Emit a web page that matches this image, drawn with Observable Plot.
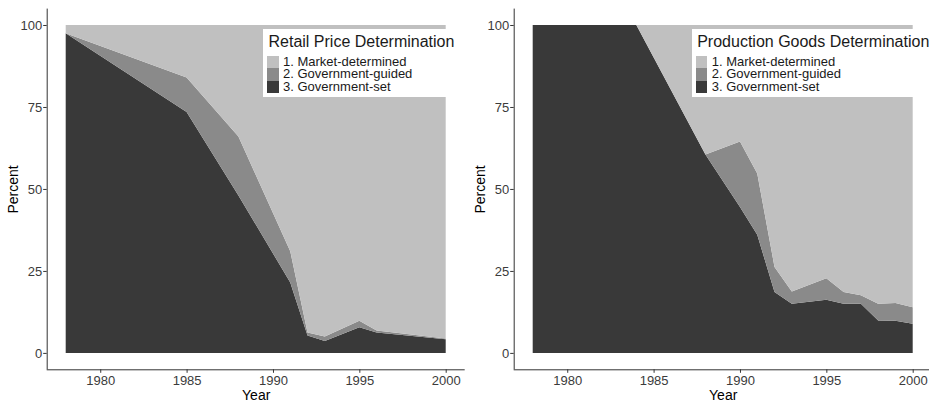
<!DOCTYPE html>
<html><head><meta charset="utf-8">
<script src="https://cdn.jsdelivr.net/npm/d3@7"></script>
<script src="https://cdn.jsdelivr.net/npm/@observablehq/plot@0.6"></script>
<style>
body{margin:0;background:#fff;font-family:"Liberation Sans",Arial,sans-serif}
#wrap{position:relative;width:929px;height:400px;overflow:hidden;display:flex;background:#fff}
.panel{position:relative;width:467px;height:400px;flex:none}
.legend{position:absolute;top:29px;background:#fff;padding:4px 3px 4px 4px;color:#1a1a1a}
.legend .title{font-size:16px;line-height:18px;margin-left:1.5px;margin-bottom:5px;white-space:nowrap}
.legend .item{display:flex;align-items:center;font-size:13px;line-height:12.3px;height:12.3px;white-space:nowrap}
.legend .sw{width:11.6px;height:12.3px;margin-right:4.4px;flex:none}
</style></head><body><div id="wrap"></div>
<script>
const categories = ["1. Market-determined", "2. Government-guided", "3. Government-set"];
const colors = ["#c0c0c0", "#8a8a8a", "#393939"];

const retailYears  = [1978, 1985, 1988, 1991, 1992, 1993, 1995, 1996, 2000];
const retailSet    = [97.5, 73.5, 48, 21.5, 5.3, 3.6, 7.8, 6.2, 4.2];
const retailGuided = [0, 10.5, 18, 9.5, 0.9, 1.4, 2.0, 0.6, 0.2];
const retailMarket = [2.5, 16, 34, 69, 93.8, 95, 90.2, 93.2, 95.6];

const prodYears  = [1978, 1984, 1988, 1990, 1991, 1992, 1993, 1995, 1996, 1997, 1998, 1999, 2000];
const prodSet    = [100, 100, 60.5, 44.5, 36, 18.6, 15, 16.2, 15, 15, 9.9, 9.8, 8.9];
const prodGuided = [0, 0, 0, 20, 18.7, 7.6, 3.7, 6.6, 3.6, 2.6, 5.1, 5.4, 5.0];
const prodMarket = [0, 0, 39.5, 35.5, 45.3, 73.8, 81.3, 77.2, 81.4, 82.4, 85, 84.8, 86.1];

const xTicks = [1980, 1985, 1990, 1995, 2000];
const yTicks = [0, 25, 50, 75, 100];

function rows(years, market, guided, set) {
  const out = [];
  years.forEach((yr, i) => {
    out.push({year: yr, type: categories[2], value: set[i]});
    out.push({year: yr, type: categories[1], value: guided[i]});
    out.push({year: yr, type: categories[0], value: market[i]});
  });
  return out;
}

function panel(data, years, title, legendLeft) {
  const [x0, x1] = d3.extent(years);
  const px = (x1 - x0) * 0.05;
  const xd = [x0 - px, x1 + px];
  const yd = [-5, 105];
  const font = '"Liberation Sans", Arial, sans-serif';
  const svg = Plot.plot({
    width: 467, height: 400,
    marginLeft: 46.7, marginRight: 2.3, marginTop: 8.6, marginBottom: 30.7,
    style: {fontFamily: font, fontSize: "13px", background: "#fff", overflow: "visible"},
    x: {domain: xd},
    y: {domain: yd},
    color: {domain: categories, range: colors},
    marks: [
      Plot.areaY(data, {x: "year", y: "value", z: "type", fill: "type",
        order: [categories[2], categories[1], categories[0]]}),
      Plot.ruleY([yd[0]], {stroke: "#333", strokeWidth: 1}),
      Plot.ruleX([xd[0]], {stroke: "#333", strokeWidth: 1}),
      Plot.axisX({ticks: xTicks, tickFormat: "d", tickSize: 3.5, tickPadding: 2,
        stroke: "#333", fill: "#3b3b3b", fontSize: 13, label: null}),
      Plot.axisX({ticks: [], label: "Year", labelAnchor: "center", labelArrow: "none",
        labelOffset: 30, fill: "#000", fontSize: 14}),
      Plot.axisY({ticks: yTicks, tickFormat: "d", tickSize: 3.5, tickPadding: 1.5,
        stroke: "#333", fill: "#3b3b3b", fontSize: 13, label: null}),
      Plot.axisY({ticks: [], label: "Percent", labelAnchor: "center", labelArrow: "none",
        labelOffset: 39, fill: "#000", fontSize: 14})
    ]
  });
  const div = document.createElement("div");
  div.className = "panel";
  div.appendChild(svg);
  const lg = document.createElement("div");
  lg.className = "legend";
  lg.style.left = legendLeft + "px";
  const t = document.createElement("div");
  t.className = "title";
  t.textContent = title;
  lg.appendChild(t);
  categories.forEach((c, i) => {
    const it = document.createElement("div");
    it.className = "item";
    const sw = document.createElement("span");
    sw.className = "sw";
    sw.style.background = colors[i];
    const tx = document.createElement("span");
    tx.textContent = c;
    it.appendChild(sw);
    it.appendChild(tx);
    lg.appendChild(it);
  });
  div.appendChild(lg);
  return div;
}

const wrap = document.getElementById("wrap");
wrap.appendChild(panel(rows(retailYears, retailMarket, retailGuided, retailSet), retailYears, "Retail Price Determination", 263));
wrap.appendChild(panel(rows(prodYears, prodMarket, prodGuided, prodSet), prodYears, "Production Goods Determination", 224.7));
</script>
</body></html>
